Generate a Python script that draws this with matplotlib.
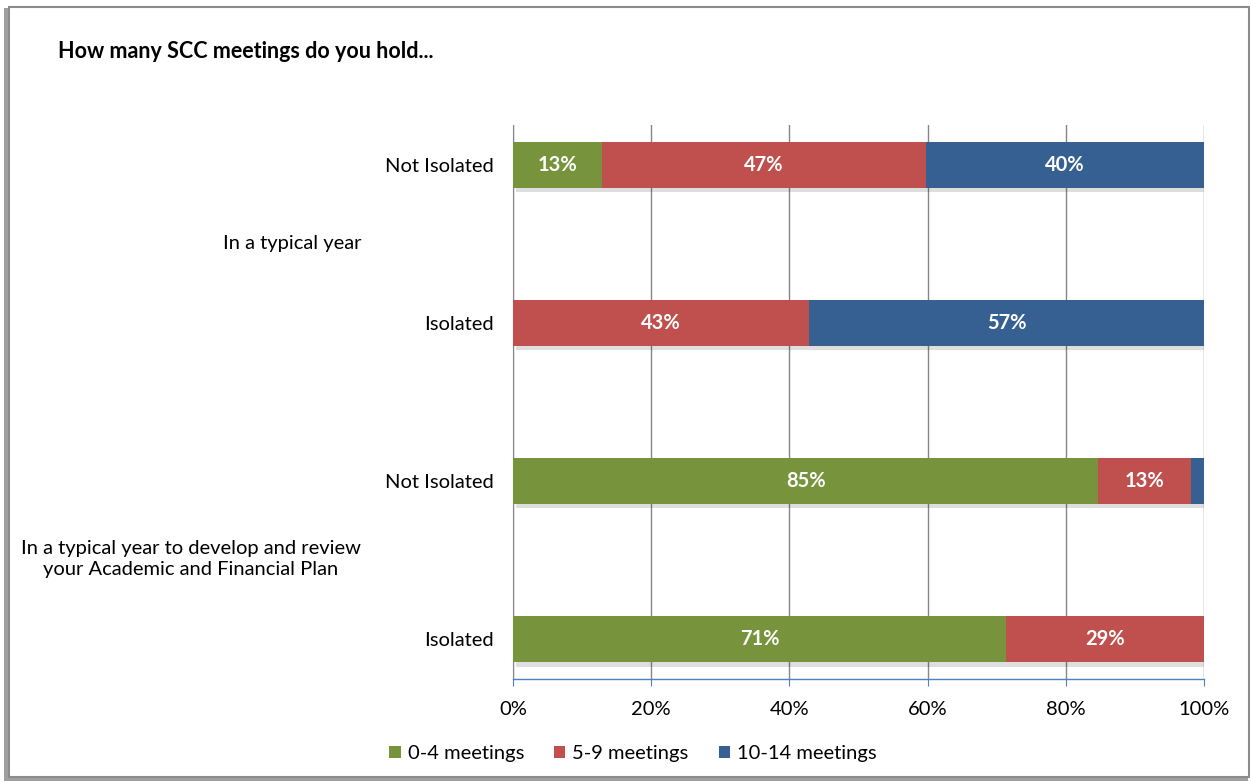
import matplotlib
matplotlib.use("Agg")
import matplotlib.pyplot as plt
import matplotlib.patheffects as pe
from matplotlib.patches import Rectangle, Patch

# ---- data ----
rows = ["Not Isolated", "Isolated", "Not Isolated", "Isolated"]
groups = ["In a typical year", "In a typical year to develop and review\nyour Academic and Financial Plan"]
series = ["0-4 meetings", "5-9 meetings", "10-14 meetings"]
meet_0_4 = [12.9, 0.0, 84.7, 71.4]
meet_5_9 = [46.9, 42.9, 13.4, 28.6]
meet_10_14 = [40.2, 57.1, 1.9, 0.0]
labels_0_4 = ["13%", "", "85%", "71%"]
labels_5_9 = ["47%", "43%", "13%", "29%"]
labels_10_14 = ["40%", "57%", "", ""]
xticks = [0, 20, 40, 60, 80, 100]
xtick_labels = ["0%", "20%", "40%", "60%", "80%", "100%"]
title = "How many SCC meetings do you hold..."

colors = ["#77933C", "#C0504D", "#376092"]
FONT = "Lato"
plt.rcParams["font.family"] = [FONT, "DejaVu Sans"]
FS = 14.5

W, H = 1252, 782
fig = plt.figure(figsize=(W / 100, H / 100), dpi=100)
fig.patch.set_facecolor("white")

# outer frame with shadow
shadow = Rectangle((4 / W, 1 / H), (W - 8) / W, (H - 9) / H, transform=fig.transFigure,
                   facecolor="#a0a0a0", edgecolor="none", zorder=0)
fig.patches.append(shadow)
frame = Rectangle((9 / W, 5 / H), (W - 12) / W, (H - 12) / H, transform=fig.transFigure,
                  facecolor="white", edgecolor="#8c8c8c", linewidth=1.5, zorder=1)
fig.patches.append(frame)

# plot area
x0, x1 = 513, 1204
y_top, y_bot = 125, 679
ax = fig.add_axes([x0 / W, 1 - y_bot / H, (x1 - x0) / W, (y_bot - y_top) / H])
ax.set_facecolor("none")
ax.set_zorder(2)

ypos = list(range(len(rows)))
bh = 0.29
left = [0.0] * len(rows)
all_vals = [meet_0_4, meet_5_9, meet_10_14]
all_labels = [labels_0_4, labels_5_9, labels_10_14]
shadow_fx = [pe.SimplePatchShadow(offset=(2, -3), shadow_rgbFace="#000000", alpha=0.13), pe.Normal()]
for vals, labs, col, name in zip(all_vals, all_labels, colors, series):
    bars = ax.barh(ypos, vals, left=left, height=bh, color=col, zorder=3)
    for b in bars:
        b.set_path_effects(shadow_fx)
    for b, lab in zip(bars, labs):
        if lab:
            ax.text(b.get_x() + b.get_width() / 2, b.get_y() + b.get_height() / 2, lab,
                    ha="center", va="center", color="white", fontsize=FS, fontweight="bold", zorder=5)
    left = [l + v for l, v in zip(left, vals)]

ax.set_xlim(0, 100)
ax.set_ylim(3.25, -0.25)
ax.set_xticks(xticks)
ax.set_xticklabels(xtick_labels, fontsize=FS)
ax.set_yticks(ypos)
ax.set_yticklabels(rows, fontsize=FS)
ax.tick_params(axis="y", length=0, pad=14)
ax.tick_params(axis="x", length=5, color="#4F81BD", pad=11, direction="out")
ax.grid(axis="x", color="#868686", linewidth=1, zorder=0)
ax.set_axisbelow(True)
for s in ["top", "right"]:
    ax.spines[s].set_visible(False)
ax.spines["left"].set_color("#868686")
ax.spines["bottom"].set_color("#4F81BD")
ax.spines["bottom"].set_linewidth(1)

# group labels
fig.text(292 / W, 1 - 243 / H, groups[0], ha="center", va="center", fontsize=FS)
fig.text(191 / W, 1 - 559 / H, groups[1], ha="center", va="center", fontsize=FS,
         linespacing=1.35)

# title
fig.text(58 / W, 1 - 52 / H, title, ha="left", va="center", fontsize=15.5, fontweight="bold")

# legend
handles = [Patch(facecolor=c, edgecolor="none") for c in colors]
fig.legend(handles, series, loc="center", bbox_to_anchor=(633 / W, 1 - 754 / H), ncol=3,
           frameon=False, fontsize=FS, handlelength=0.55, handleheight=0.55,
           handletextpad=0.35, columnspacing=1.5)

fig.savefig("out.png", dpi=100)
